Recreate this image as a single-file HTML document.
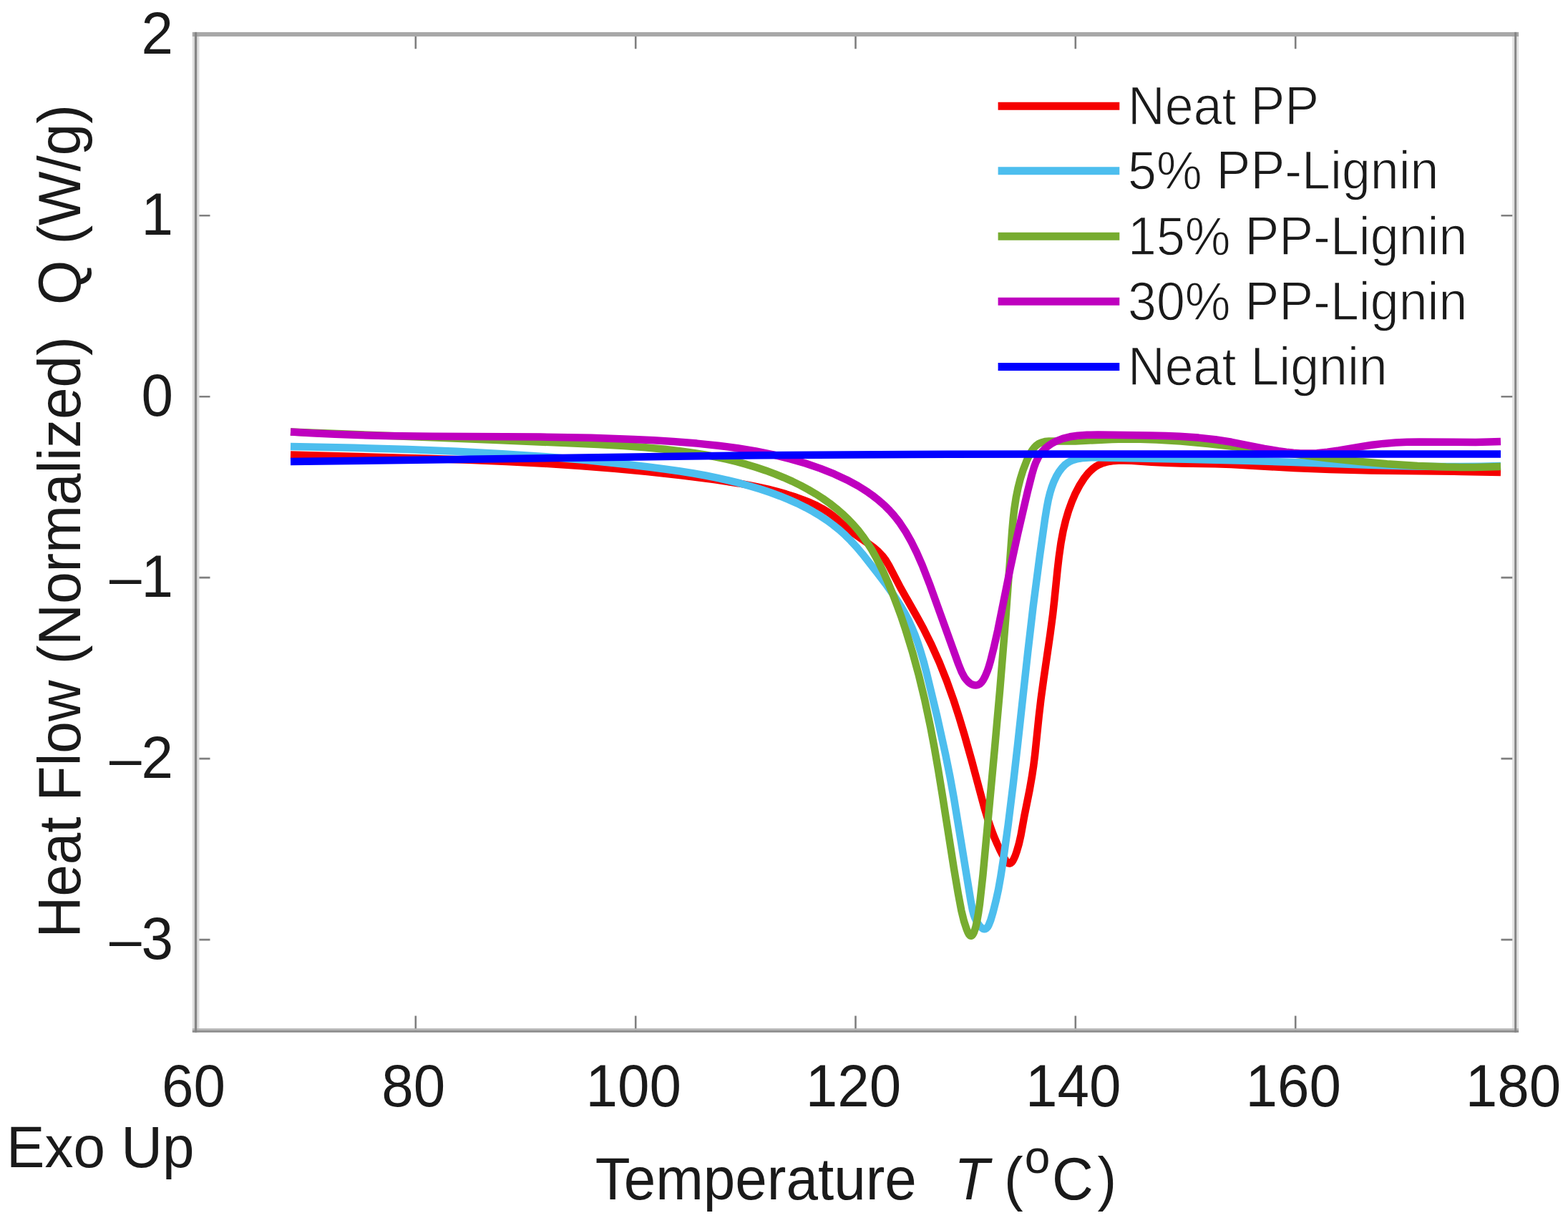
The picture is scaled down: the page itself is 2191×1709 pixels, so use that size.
<!DOCTYPE html><html><head><meta charset="utf-8"><title>DSC Heat Flow</title><style>html,body{margin:0;padding:0;background:#fff;width:2191px;height:1709px;overflow:hidden}svg{display:block}text{font-family:"Liberation Sans",Arial,Helvetica,sans-serif;fill:#1a1a1a;white-space:pre;stroke:#fff;stroke-width:0px}</style></head><body>
<svg width="2191" height="1709" viewBox="0 0 2191 1709" xmlns="http://www.w3.org/2000/svg">
<rect width="2191" height="1709" fill="#ffffff"/>
<g fill="none" stroke-width="10.5" stroke-linejoin="round" stroke-linecap="butt">
<path stroke="#f50000" d="M406.0,635.5L597.0,640.7 655.0,642.7 707.9,644.9 760.9,647.7 810.8,650.9 858.6,654.7 904.3,658.9 952.0,664.2 997.6,670.1 1031.2,675.2 1046.0,677.8 1059.7,680.6 1073.3,683.6 1085.8,686.8 1098.3,690.4 1109.7,694.0 1121.9,698.4 1132.2,702.5 1141.2,706.6 1149.1,710.8 1157.5,716.0 1164.7,721.3 1170.7,726.3 1184.8,738.9 1191.9,744.6 1214.2,760.3 1220.6,765.0 1227.4,770.8 1232.8,776.5 1237.6,782.8 1242.2,790.4 1258.6,821.9 1282.3,863.7 1290.4,878.5 1301.5,900.8 1312.5,925.4 1322.8,951.3 1332.9,979.6 1340.3,1002.5 1347.8,1027.5 1357.6,1062.2 1375.1,1127.5 1380.3,1144.7 1385.5,1160.0 1389.2,1169.6 1393.3,1179.1 1397.3,1187.8 1401.7,1196.4 1404.9,1201.8 1407.0,1204.6 1409.2,1206.4 1410.8,1206.7 1412.3,1206.1 1413.9,1204.7 1415.4,1202.6 1416.8,1199.9 1418.6,1195.9 1420.5,1190.4 1423.7,1179.6 1426.5,1167.1 1431.2,1141.0 1438.7,1103.6 1442.1,1084.0 1444.2,1070.1 1446.1,1055.0 1451.7,1000.9 1454.6,976.1 1458.4,948.5 1467.4,886.6 1471.2,857.9 1473.3,838.9 1477.6,796.5 1479.8,777.4 1482.5,758.5 1485.6,741.7 1489.1,727.2 1493.0,714.0 1497.7,701.0 1502.8,689.2 1508.8,677.8 1514.7,668.6 1520.7,661.0 1524.1,657.6 1527.6,654.5 1531.4,651.8 1535.4,649.5 1539.7,647.6 1545.2,645.9 1550.9,644.7 1556.8,643.9 1563.0,643.5 1570.4,643.4 1581.1,643.8 1609.0,645.8 1629.6,646.8 1650.4,647.4 1697.9,648.2 1720.4,649.0 1808.1,654.0 1858.3,656.0 1916.1,657.4 2041.5,658.9 2097.0,660.0"/>
<path stroke="#4dbeee" d="M406.0,624.0L494.9,625.8 569.9,628.0 638.0,630.8 701.9,634.2 762.8,638.3 821.6,643.3 878.3,649.2 906.0,652.5 930.8,655.7 950.5,658.5 969.2,661.5 985.9,664.5 1002.5,667.9 1018.1,671.4 1033.6,675.2 1048.0,679.2 1062.4,683.5 1076.7,688.3 1090.0,693.2 1102.1,698.1 1114.0,703.4 1125.7,709.2 1136.2,714.9 1146.4,721.1 1155.5,727.1 1164.3,733.6 1172.8,740.4 1180.9,747.7 1188.6,755.4 1196.7,764.2 1205.1,774.1 1226.2,800.9 1237.1,815.3 1245.2,826.6 1252.5,837.2 1258.8,847.2 1264.2,856.6 1269.3,866.2 1273.8,876.1 1278.4,887.1 1282.5,898.3 1286.5,910.7 1290.5,924.2 1294.6,939.8 1309.4,1001.1 1321.2,1054.3 1327.5,1085.6 1332.9,1115.3 1356.8,1260.6 1359.1,1272.4 1360.5,1277.6 1362.3,1282.6 1364.0,1286.3 1366.0,1289.9 1368.4,1293.2 1371.0,1296.0 1373.7,1297.8 1375.7,1298.3 1376.9,1298.1 1378.5,1297.1 1380.1,1295.3 1381.5,1292.9 1384.3,1285.8 1387.7,1274.3 1391.7,1258.4 1395.1,1242.8 1398.3,1224.8 1401.8,1202.4 1408.8,1151.9 1415.8,1095.2 1421.9,1041.5 1436.1,912.2 1443.6,847.8 1452.9,776.6 1460.1,725.6 1462.7,709.5 1464.8,698.6 1467.2,688.8 1469.8,680.3 1472.6,672.9 1476.0,665.7 1479.9,659.1 1483.9,653.8 1487.7,649.8 1491.3,647.1 1495.2,644.8 1499.3,643.0 1503.7,641.7 1508.3,640.7 1514.1,639.9 1521.1,639.4 1528.4,639.3 1657.0,641.8 1740.2,643.8 1801.7,645.7 1919.0,649.9 1974.3,651.4 2008.5,652.0 2039.5,652.1 2069.3,651.7 2097.0,651.0"/>
<path stroke="#77ac30" d="M406.0,603.5L695.7,614.9 835.7,621.1 871.7,623.1 901.7,625.2 928.5,627.7 953.3,630.7 969.1,632.9 984.8,635.5 1000.5,638.5 1015.1,641.7 1029.6,645.2 1043.1,648.9 1056.5,653.0 1069.8,657.4 1083.0,662.3 1095.1,667.3 1107.1,672.6 1118.8,678.4 1129.4,684.1 1139.8,690.2 1149.8,696.6 1159.5,703.5 1168.8,710.8 1177.0,717.9 1184.9,725.3 1192.3,733.1 1199.4,741.3 1205.4,749.1 1211.6,758.0 1217.5,767.2 1223.4,777.6 1229.0,788.2 1234.7,800.0 1240.8,813.9 1247.4,829.8 1253.5,845.8 1259.7,862.8 1265.4,879.9 1275.1,911.5 1284.0,944.2 1292.4,979.1 1300.2,1016.0 1305.6,1044.4 1311.0,1075.7 1316.6,1109.9 1332.8,1212.9 1338.8,1248.3 1343.4,1272.8 1346.9,1287.0 1350.8,1298.8 1352.3,1302.5 1353.9,1305.5 1355.5,1307.4 1356.8,1307.8 1357.6,1307.5 1358.9,1306.5 1360.1,1304.6 1361.2,1302.2 1363.3,1295.7 1365.0,1288.0 1367.1,1276.2 1369.0,1263.0 1373.5,1222.4 1389.7,1048.0 1397.3,962.5 1405.4,862.9 1414.2,742.1 1415.7,725.2 1417.3,711.4 1419.7,695.6 1422.5,681.9 1425.7,669.3 1429.6,656.8 1434.4,644.3 1438.7,635.1 1442.9,628.4 1445.2,625.4 1447.8,622.8 1451.5,620.1 1455.6,618.2 1460.1,617.0 1466.0,616.4 1489.1,616.6 1502.6,616.4 1553.7,614.1 1571.6,613.6 1593.4,613.7 1616.3,614.4 1650.1,616.5 1688.0,620.0 1723.9,624.1 1810.3,634.9 1854.9,640.2 1898.4,644.8 1938.1,648.3 1980.8,651.1 2020.7,652.6 2040.7,652.9 2059.8,652.9 2078.9,652.6 2097.0,652.0"/>
<path stroke="#bf00bf" d="M406.0,603.5L436.0,605.3 468.0,606.8 502.0,608.0 538.0,608.9 604.0,609.8 755.0,610.6 826.0,611.8 885.9,613.9 913.9,615.3 940.9,617.0 973.8,619.6 1003.7,622.7 1030.4,626.2 1056.0,630.4 1080.4,635.4 1103.6,641.1 1125.6,647.5 1146.3,654.6 1165.9,662.4 1183.1,670.4 1198.8,678.9 1206.4,683.6 1213.0,687.9 1219.4,692.5 1225.6,697.3 1231.6,702.4 1237.4,707.7 1242.9,713.3 1248.2,719.1 1252.6,724.5 1257.4,730.8 1265.7,743.4 1273.2,756.6 1280.9,772.1 1288.7,789.9 1299.7,818.2 1339.2,927.9 1343.8,939.3 1347.8,946.7 1350.2,949.8 1352.7,952.6 1355.5,954.9 1357.7,956.2 1360.8,957.3 1363.2,957.6 1366.3,957.1 1369.2,955.6 1371.3,953.7 1373.9,950.1 1376.7,944.8 1379.5,938.1 1381.7,931.7 1384.1,923.5 1389.0,903.8 1394.2,880.8 1411.8,793.5 1421.8,747.4 1435.9,686.8 1441.7,663.9 1444.9,652.9 1447.4,646.2 1450.4,639.9 1453.4,634.8 1456.9,630.3 1460.9,626.2 1465.3,622.6 1470.2,619.4 1476.1,616.3 1485.0,612.9 1495.2,610.3 1505.9,608.7 1518.9,607.8 1534.2,607.6 1607.3,608.5 1629.2,609.0 1648.0,609.7 1674.6,611.6 1698.2,614.2 1720.9,617.8 1766.5,626.8 1786.4,630.2 1797.3,631.7 1807.2,632.8 1817.2,633.4 1826.1,633.6 1840.0,633.2 1854.8,631.8 1870.7,629.5 1903.4,623.9 1917.2,621.8 1933.1,619.9 1950.0,618.6 1966.0,617.8 1982.9,617.5 2061.9,617.9 2080.0,617.6 2097.0,617.0"/>
<path stroke="#0000ff" d="M406.0,645.1L546.0,643.3 943.0,637.7 1063.0,636.3 1184.0,635.4 1325.0,634.7 1482.0,634.4 2097.0,634.6"/>
</g>
<path d="M580.8,1439.6V1419.6M580.8,48.2V68.2M888.2,1439.6V1419.6M888.2,48.2V68.2M1195.5,1439.6V1419.6M1195.5,48.2V68.2M1502.8,1439.6V1419.6M1502.8,48.2V68.2M1810.2,1439.6V1419.6M1810.2,48.2V68.2M273.5,301.2H293.5M2117.5,301.2H2097.5M273.5,554.2H293.5M2117.5,554.2H2097.5M273.5,807.1H293.5M2117.5,807.1H2097.5M273.5,1060.1H293.5M2117.5,1060.1H2097.5M273.5,1313.1H293.5M2117.5,1313.1H2097.5" stroke="#7f7f7f" stroke-width="2.6" fill="none"/>
<rect x="268.8" y="44.9" width="9.7" height="1397.8" fill="#dedede"/><rect x="2113.2" y="44.9" width="8.9" height="1397.8" fill="#e2e2e2"/><rect x="268.8" y="44.9" width="1853.3" height="6.1" fill="#a8a8a8"/><rect x="268.8" y="1437.1" width="1853.3" height="2.8" fill="#b5b5b5"/><rect x="268.8" y="1439.9" width="1853.3" height="2.8" fill="#8c8c8c"/><rect x="271.9" y="44.9" width="3.3" height="1397.8" fill="#858585"/><rect x="2116.2" y="44.9" width="2.9" height="1397.8" fill="#858585"/>
<text transform="translate(242.0,75.4) scale(1,1.035)" font-size="80.0" text-anchor="end">2</text>
<text transform="translate(242.0,328.4) scale(1,1.035)" font-size="80.0" text-anchor="end">1</text>
<text transform="translate(242.0,581.4) scale(1,1.035)" font-size="80.0" text-anchor="end">0</text>
<text transform="translate(242.0,834.3) scale(1,1.035)" font-size="80.0" text-anchor="end">–1</text>
<text transform="translate(242.0,1087.3) scale(1,1.035)" font-size="80.0" text-anchor="end">–2</text>
<text transform="translate(242.0,1340.3) scale(1,1.035)" font-size="80.0" text-anchor="end">–3</text>
<text transform="translate(270.5,1545.5) scale(1,1.035)" font-size="80.0" text-anchor="middle">60</text>
<text transform="translate(577.8,1545.5) scale(1,1.035)" font-size="80.0" text-anchor="middle">80</text>
<text transform="translate(885.2,1545.5) scale(1,1.035)" font-size="80.0" text-anchor="middle">100</text>
<text transform="translate(1192.5,1545.5) scale(1,1.035)" font-size="80.0" text-anchor="middle">120</text>
<text transform="translate(1499.8,1545.5) scale(1,1.035)" font-size="80.0" text-anchor="middle">140</text>
<text transform="translate(1807.2,1545.5) scale(1,1.035)" font-size="80.0" text-anchor="middle">160</text>
<text transform="translate(2114.5,1545.5) scale(1,1.035)" font-size="80.0" text-anchor="middle">180</text>
<text transform="translate(831.7,1676.0) scale(1,1.040)" font-size="80.0">Temperature</text>
<text transform="translate(1333.3,1676.0) scale(1,1.040)" font-size="80.0" font-style="italic">T</text>
<text transform="translate(1403.0,1676.0) scale(1,1.040)" font-size="80.0">(</text>
<text x="1431.8" y="1638.5" font-size="64.0">o</text>
<text transform="translate(1469.9,1676.0) scale(1,1.040)" font-size="80.0">C</text>
<text transform="translate(1533.5,1676.0) scale(1,1.040)" font-size="80.0">)</text>
<text transform="translate(111.5,1304.0) rotate(-90) scale(1,1.040)" x="-6.6" y="0" font-size="80">Heat Flow (Normalized)  Q (W/g)</text>
<text transform="translate(9.1,1630.6) scale(1,1.010)" font-size="80.0">Exo Up</text>
<line x1="1394.6" x2="1564.3" y1="148.2" y2="148.2" stroke="#f50000" stroke-width="11.0"/>
<text transform="translate(1576.1,173.9) scale(1,1.065)" font-size="71.7" style="stroke-width:1.2px">Neat PP</text>
<line x1="1394.6" x2="1564.3" y1="238.7" y2="238.7" stroke="#4dbeee" stroke-width="11.0"/>
<text transform="translate(1576.1,264.4) scale(1,1.065)" font-size="71.7" style="stroke-width:1.2px">5% PP-Lignin</text>
<line x1="1394.6" x2="1564.3" y1="330.3" y2="330.3" stroke="#77ac30" stroke-width="11.0"/>
<text transform="translate(1576.1,356.0) scale(1,1.065)" font-size="71.7" style="stroke-width:1.2px">15% PP-Lignin</text>
<line x1="1394.6" x2="1564.3" y1="421.3" y2="421.3" stroke="#bf00bf" stroke-width="11.0"/>
<text transform="translate(1576.1,447.0) scale(1,1.065)" font-size="71.7" style="stroke-width:1.2px">30% PP-Lignin</text>
<line x1="1394.6" x2="1564.3" y1="512.5" y2="512.5" stroke="#0000ff" stroke-width="11.0"/>
<text transform="translate(1576.1,538.2) scale(1,1.065)" font-size="71.7" style="stroke-width:1.2px">Neat Lignin</text>
</svg></body></html>
